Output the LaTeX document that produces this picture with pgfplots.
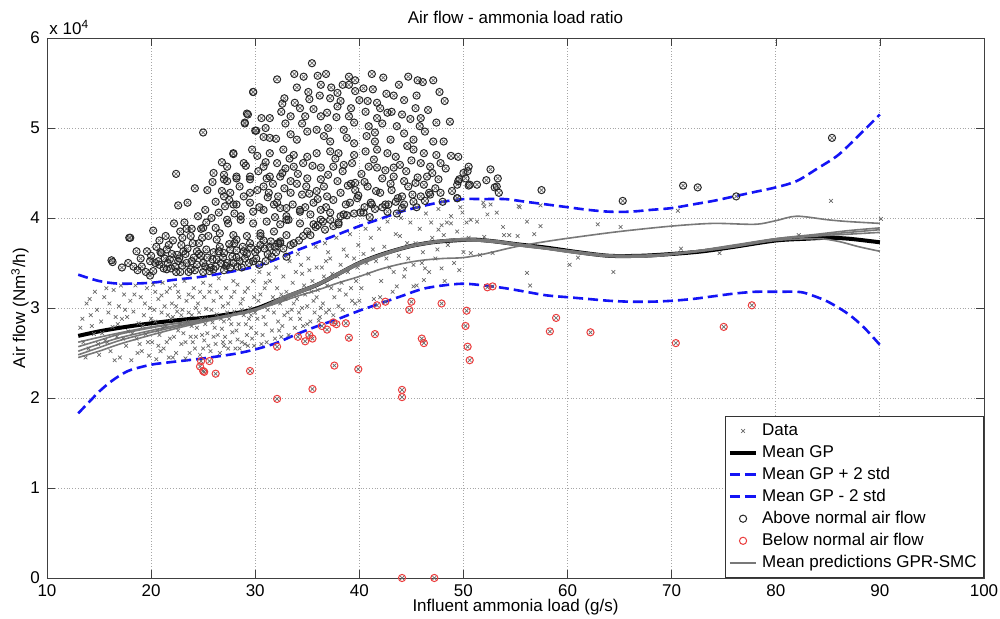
\documentclass[border=0pt]{standalone}
\usepackage{fontspec}
\setmainfont{Liberation Sans}
\usepackage{pgfplots}
\usepackage{pgfplotstable}
\pgfplotsset{compat=1.18}

\definecolor{bandblue}{RGB}{20,20,245}
\definecolor{smcgray}{RGB}{120,120,120}
\definecolor{ptgray}{RGB}{105,105,105}
\definecolor{lowred}{RGB}{235,60,60}

% data points inside the band (air flow in 10^4 Nm3/h)
\pgfplotstableread[row sep=\\]{
x y\\
13.2 2.78\\ 13.5 2.62\\ 13.8 3.05\\ 14.0 2.55\\ 14.2 2.92\\ 14.5 2.71\\ 14.8 2.98\\ 15.0 2.48\\
15.2 2.85\\ 15.5 3.12\\ 15.6 2.64\\ 15.9 2.95\\ 16.1 2.52\\ 16.3 2.79\\ 16.4 3.20\\ 16.7 2.68\\
16.9 3.02\\ 17.0 2.45\\ 17.2 2.88\\ 17.4 3.15\\ 17.6 2.58\\ 17.8 2.74\\ 18.0 3.08\\ 18.1 2.42\\
18.3 2.96\\ 18.5 3.25\\ 18.6 2.66\\ 18.8 2.83\\ 19.0 3.12\\ 19.1 2.52\\ 19.3 2.92\\ 19.5 2.71\\
19.6 3.22\\ 19.8 2.47\\ 19.9 3.00\\ 14.1 3.10\\ 15.8 2.62\\ 16.6 2.90\\ 17.5 2.98\\ 18.9 2.60\\
13.4 2.88\\ 13.7 2.45\\ 14.3 2.80\\ 14.6 3.18\\ 14.9 2.60\\ 15.3 2.72\\ 15.7 3.22\\ 16.0 3.05\\
16.5 2.42\\ 16.8 2.82\\ 17.1 3.25\\ 17.3 2.66\\ 17.7 2.90\\ 18.2 2.72\\ 18.4 3.15\\ 18.7 2.50\\
19.2 2.80\\ 19.4 3.05\\ 19.7 2.62\\
20.1 2.62\\ 20.2 3.26\\ 20.4 2.85\\ 20.5 2.43\\ 20.7 3.10\\ 20.8 2.70\\ 21.0 2.95\\ 21.1 3.28\\
21.2 2.55\\ 21.4 2.80\\ 21.5 3.18\\ 21.7 2.45\\ 21.8 2.66\\ 22.0 3.05\\ 22.1 2.90\\ 22.3 3.25\\
22.4 2.50\\ 22.6 2.75\\ 22.7 3.12\\ 22.9 2.60\\ 23.0 2.98\\ 23.2 3.30\\ 23.3 2.44\\ 23.5 2.85\\
23.6 3.15\\ 23.8 2.68\\ 23.9 2.92\\ 24.1 3.22\\ 24.2 2.55\\ 24.4 2.78\\ 24.5 3.05\\ 24.7 2.48\\
24.8 2.88\\ 25.0 3.28\\ 25.1 2.64\\ 25.3 2.99\\ 25.4 2.72\\ 25.6 3.18\\ 25.7 2.52\\ 25.9 2.84\\
26.0 3.08\\ 26.2 2.60\\ 26.3 2.93\\ 26.5 3.33\\ 26.6 2.50\\ 26.8 2.77\\ 26.9 3.02\\ 27.1 2.68\\
27.2 3.22\\ 27.4 2.55\\ 27.5 2.88\\ 27.7 3.12\\ 27.8 2.73\\ 28.0 2.96\\ 28.1 2.55\\ 28.3 3.26\\
28.4 2.82\\ 28.6 3.05\\ 28.7 2.62\\ 28.9 2.92\\ 29.0 3.18\\ 29.2 2.70\\ 29.3 2.58\\ 29.5 3.00\\
29.6 2.78\\ 29.8 3.30\\ 29.9 2.58\\ 20.3 2.98\\ 20.9 2.52\\ 21.3 3.02\\ 21.9 2.88\\ 22.2 2.68\\
22.8 2.82\\ 23.4 3.08\\ 24.0 2.62\\ 24.6 2.95\\ 25.2 2.82\\ 25.8 2.98\\ 26.4 2.70\\ 27.0 2.85\\
27.6 2.62\\ 28.2 2.75\\ 28.8 3.10\\ 29.4 2.88\\ 29.7 2.66\\ 20.6 2.75\\ 21.6 2.92\\ 22.5 2.96\\
23.1 2.72\\ 23.7 2.50\\ 24.3 3.00\\ 24.9 2.70\\ 25.5 2.58\\ 26.1 2.78\\ 26.7 3.12\\ 27.3 2.95\\
27.9 3.30\\ 28.5 2.55\\ 29.1 2.82\\ 21.0 3.14\\ 22.4 3.02\\ 23.9 2.80\\ 25.1 3.12\\ 26.9 2.62\\
20.0 2.88\\ 20.4 3.18\\ 20.7 2.58\\ 21.1 2.78\\ 21.5 2.62\\ 21.8 3.22\\ 22.1 2.45\\ 22.6 3.18\\
22.9 2.92\\ 23.3 2.62\\ 23.6 2.95\\ 24.0 3.12\\ 24.3 2.68\\ 24.7 3.18\\ 25.0 2.55\\ 25.3 2.88\\
25.7 3.25\\ 26.0 2.68\\ 26.3 3.18\\ 26.7 2.88\\ 27.0 2.58\\ 27.4 3.05\\ 27.7 2.82\\ 28.0 3.18\\
28.3 2.65\\ 28.7 2.98\\ 29.0 2.60\\ 29.3 3.22\\ 29.6 2.92\\ 29.9 3.12\\
30.1 2.72\\ 30.3 3.08\\ 30.4 3.40\\ 30.6 2.60\\ 30.8 2.90\\ 30.9 3.22\\ 31.1 2.62\\ 31.2 2.98\\
31.4 3.30\\ 31.6 2.75\\ 31.7 3.12\\ 31.9 2.66\\ 32.0 3.45\\ 32.2 2.85\\ 32.4 3.05\\ 32.5 2.68\\
32.7 3.35\\ 32.8 2.92\\ 33.0 3.18\\ 33.2 2.70\\ 33.3 3.52\\ 33.5 2.98\\ 33.6 3.28\\ 33.8 2.78\\
34.0 3.10\\ 34.1 3.60\\ 34.3 2.88\\ 34.5 3.38\\ 34.6 2.80\\ 34.8 3.15\\ 35.0 3.02\\ 35.1 3.55\\
35.3 2.85\\ 35.5 3.30\\ 35.7 2.95\\ 35.8 3.68\\ 36.0 3.20\\ 36.2 2.90\\ 36.4 3.45\\ 36.5 3.05\\
36.7 3.72\\ 36.9 3.25\\ 37.1 2.98\\ 37.2 3.55\\ 37.4 3.38\\ 37.6 3.12\\ 37.8 3.78\\ 38.0 3.02\\
38.2 3.48\\ 38.3 3.28\\ 38.5 3.65\\ 38.7 3.15\\ 38.9 3.40\\ 39.1 3.82\\ 39.3 3.08\\ 39.5 3.55\\
39.7 3.30\\ 39.9 3.70\\ 30.5 3.15\\ 31.0 2.82\\ 31.5 3.05\\ 32.1 3.22\\ 32.6 2.80\\ 33.1 2.95\\
33.7 3.05\\ 34.2 2.95\\ 34.7 3.25\\ 35.2 3.42\\ 35.6 3.08\\ 36.1 2.86\\ 36.6 3.35\\ 37.0 3.62\\
37.5 2.92\\ 38.1 3.20\\ 30.2 2.88\\ 31.3 3.38\\ 32.9 3.10\\ 34.4 3.48\\ 35.9 3.12\\ 36.8 2.95\\
30.0 2.95\\ 30.7 2.70\\ 31.0 3.28\\ 31.8 2.95\\ 32.3 2.75\\ 32.5 3.15\\ 33.4 2.88\\ 33.9 3.40\\
34.5 3.00\\ 35.0 2.82\\ 35.4 3.18\\ 35.9 3.45\\ 36.3 3.00\\ 36.8 3.52\\ 37.3 3.22\\ 37.9 3.35\\
38.4 2.98\\ 38.8 3.58\\ 39.2 3.22\\ 39.6 3.05\\ 39.8 3.45\\
40.2 3.22\\ 40.4 3.60\\ 40.6 3.88\\ 40.9 3.38\\ 41.1 3.78\\ 41.4 3.10\\ 41.6 3.52\\ 41.9 3.88\\
42.1 3.30\\ 42.4 3.68\\ 42.7 3.96\\ 42.9 3.45\\ 43.2 3.18\\ 43.5 3.82\\ 43.8 3.58\\ 44.0 4.00\\
44.3 3.35\\ 44.6 3.72\\ 44.9 3.95\\ 45.2 3.48\\ 45.5 3.25\\ 45.8 3.88\\ 46.1 3.62\\ 46.4 4.05\\
46.7 3.40\\ 47.0 3.78\\ 47.3 3.55\\ 47.6 4.10\\ 47.9 3.92\\ 48.2 3.30\\ 48.5 3.70\\ 48.8 4.02\\
49.1 3.50\\ 49.4 3.85\\ 49.7 4.12\\ 50.0 3.62\\ 50.3 3.95\\ 47.6 3.87\\ 48.1 3.81\\ 48.8 3.94\\
40.0 3.08\\ 40.7 3.50\\ 41.3 3.65\\ 42.0 3.12\\ 42.6 3.55\\ 43.3 3.40\\ 43.9 3.80\\ 44.7 3.55\\
45.4 3.72\\ 46.0 3.50\\ 46.9 3.95\\ 47.5 3.65\\ 48.4 3.95\\ 49.0 3.75\\ 49.6 3.42\\ 50.5 3.78\\
49.9 4.06\\ 50.7 3.98\\ 51.3 3.96\\ 52.0 4.13\\ 53.2 4.06\\ 53.9 3.81\\ 54.4 3.81\\ 55.3 4.13\\
56.1 3.39\\ 50.7 3.61\\ 51.6 3.59\\ 47.9 3.44\\ 46.2 3.31\\ 43.6 3.24\\ 45.2 3.24\\ 46.3 3.44\\
44.4 3.43\\ 51.9 4.17\\ 52.6 4.15\\ 52.3 4.04\\ 55.4 4.12\\ 57.4 4.14\\ 56.1 3.96\\ 53.8 3.90\\
55.2 3.80\\ 56.8 3.82\\ 57.4 3.91\\ 52.0 3.79\\ 52.8 3.61\\ 56.4 3.25\\ 60.2 3.48\\ 61.0 3.56\\
62.9 3.93\\ 65.1 3.90\\ 64.4 3.40\\ 70.6 4.08\\ 70.9 3.66\\ 74.6 3.61\\ 82.2 3.81\\ 85.3 4.19\\
90.1 3.99\\
}\dataTab

% points above normal air flow
\pgfplotstableread[row sep=\\]{
x y\\
35.45 5.72\\ 33.75 5.60\\ 34.65 5.57\\ 32.1 5.54\\ 36.0 5.58\\ 36.8 5.60\\ 36.3 5.48\\ 39.0 5.57\\
39.0 5.48\\ 39.6 5.53\\ 41.2 5.60\\ 42.3 5.56\\ 43.8 5.48\\ 44.7 5.57\\ 45.6 5.53\\ 46.1 5.51\\
47.1 5.53\\ 47.7 5.40\\ 29.8 5.40\\ 32.8 5.33\\ 35.1 5.40\\ 35.2 5.32\\ 37.2 5.33\\ 37.9 5.39\\
39.6 5.41\\ 40.4 5.44\\ 41.3 5.43\\ 42.6 5.38\\ 43.3 5.36\\ 44.3 5.31\\ 45.5 5.36\\ 32.6 5.27\\
32.5 5.18\\ 29.2 5.16\\ 29.0 5.06\\ 30.6 5.11\\ 31.4 5.11\\ 33.4 5.13\\ 34.3 5.22\\ 34.8 5.13\\
36.3 5.13\\ 36.9 5.17\\ 37.9 5.24\\ 38.2 5.30\\ 39.0 5.13\\ 39.5 5.06\\ 40.6 5.18\\ 41.7 5.28\\
41.7 5.11\\ 42.7 5.17\\ 43.1 5.18\\ 44.1 5.15\\ 44.9 5.10\\ 45.4 5.22\\ 45.9 5.11\\ 48.7 5.07\\
30.0 4.97\\ 30.8 4.90\\ 31.4 4.89\\ 33.4 4.93\\ 34.0 4.87\\ 35.0 4.96\\ 35.9 4.98\\ 36.6 4.91\\
37.2 4.85\\ 38.8 4.89\\ 39.5 4.83\\ 40.7 4.91\\ 41.5 4.85\\ 43.0 4.87\\ 44.3 4.94\\ 45.2 4.87\\
46.3 4.96\\ 47.1 4.85\\ 48.1 4.85\\ 29.7 4.76\\ 27.9 4.72\\ 30.2 4.69\\ 31.4 4.72\\ 32.7 4.76\\
33.7 4.70\\ 35.0 4.68\\ 35.9 4.72\\ 37.2 4.74\\ 38.0 4.72\\ 39.5 4.70\\ 40.6 4.74\\ 41.7 4.76\\
42.7 4.72\\ 43.5 4.68\\ 45.2 4.76\\ 46.2 4.72\\ 48.8 4.69\\ 49.5 4.68\\ 27.3 4.57\\ 28.9 4.61\\
30.8 4.57\\ 32.1 4.61\\ 33.7 4.57\\ 34.6 4.61\\ 36.3 4.56\\ 37.5 4.57\\ 38.5 4.59\\ 40.9 4.57\\
41.7 4.56\\ 43.3 4.56\\ 43.9 4.59\\ 45.9 4.61\\ 46.8 4.57\\ 47.8 4.61\\ 50.4 4.52\\ 27.0 4.43\\
28.2 4.46\\ 29.5 4.43\\ 31.1 4.44\\ 32.4 4.46\\ 33.4 4.41\\ 35.0 4.44\\ 36.3 4.43\\ 37.9 4.41\\
39.6 4.39\\ 42.2 4.44\\ 43.3 4.46\\ 44.3 4.41\\ 45.4 4.39\\ 46.5 4.46\\ 47.6 4.43\\ 49.5 4.41\\
50.2 4.44\\ 27.6 4.28\\ 28.9 4.24\\ 30.2 4.31\\ 31.3 4.28\\ 32.2 4.24\\ 33.4 4.28\\ 34.5 4.26\\
35.9 4.30\\ 36.9 4.24\\ 38.2 4.28\\ 39.6 4.31\\ 39.8 4.22\\ 41.2 4.15\\ 42.8 4.15\\ 44.1 4.24\\
45.1 4.26\\ 45.9 4.24\\ 46.7 4.28\\ 47.8 4.28\\ 49.4 4.22\\ 27.1 4.13\\ 28.2 4.15\\ 29.5 4.17\\
30.8 4.09\\ 31.8 4.15\\ 33.0 4.11\\ 34.3 4.09\\ 35.3 4.04\\ 36.3 4.09\\ 37.2 4.06\\ 38.5 4.04\\
40.4 4.06\\ 44.3 4.15\\ 27.3 3.98\\ 28.6 3.98\\ 29.8 3.94\\ 31.1 3.96\\ 32.4 3.93\\ 33.2 3.98\\
34.3 3.94\\ 35.6 3.93\\ 36.3 3.98\\ 37.5 3.91\\ 26.6 3.83\\ 27.9 3.81\\ 29.2 3.80\\ 30.5 3.83\\
31.8 3.85\\ 33.0 3.81\\ 34.6 3.80\\ 32.4 3.72\\ 30.5 3.70\\ 22.4 4.49\\ 24.2 4.33\\ 25.4 4.31\\
22.6 4.14\\ 23.5 4.17\\ 24.5 4.02\\ 25.2 4.09\\ 22.2 3.94\\ 20.2 3.86\\ 17.9 3.78\\ 18.6 3.63\\
16.2 3.53\\ 19.6 3.63\\ 18.3 3.46\\ 19.1 3.46\\ 19.9 3.52\\ 23.4 3.88\\ 23.9 3.88\\ 22.1 3.75\\
23.0 3.78\\ 23.8 3.80\\ 25.0 3.89\\ 24.9 3.78\\ 25.5 3.80\\ 26.2 3.89\\ 26.3 3.76\\ 20.5 3.68\\
21.0 3.61\\ 21.5 3.65\\ 20.7 3.52\\ 21.8 3.54\\ 22.5 3.59\\ 23.1 3.63\\ 22.3 3.46\\ 23.4 3.50\\
24.1 3.56\\ 24.4 3.63\\ 25.4 3.56\\ 25.2 3.46\\ 26.3 3.54\\ 27.0 3.61\\ 27.6 3.65\\ 27.3 3.50\\
28.2 3.56\\ 28.9 3.63\\ 29.4 3.50\\ 21.5 3.43\\ 23.8 3.43\\ 26.0 3.43\\ 27.6 3.45\\ 20.2 3.41\\
19.9 3.36\\ 22.8 3.40\\ 25.0 3.40\\ 29.5 3.72\\ 30.2 3.65\\ 30.5 3.80\\ 28.2 3.76\\ 27.4 3.94\\
28.6 4.02\\ 27.9 4.15\\ 27.0 4.24\\ 26.5 4.06\\ 29.5 4.28\\ 30.8 4.35\\ 31.4 4.46\\ 32.6 4.50\\
29.5 4.46\\ 28.2 4.44\\ 27.3 4.41\\ 26.0 4.50\\ 27.0 4.48\\ 32.1 4.17\\ 33.0 4.02\\ 32.2 3.72\\
33.0 3.57\\ 31.0 3.52\\ 31.6 3.57\\ 25.0 4.95\\ 25.9 4.40\\ 26.8 4.62\\ 27.9 4.71\\ 29.0 5.05\\
29.3 5.15\\ 29.8 5.40\\ 30.1 4.97\\ 18.0 3.78\\ 16.3 3.51\\ 52.6 4.54\\ 53.3 4.44\\ 53.0 4.34\\
53.4 4.28\\ 52.2 4.42\\ 51.3 4.37\\ 50.5 4.36\\ 50.5 4.57\\ 50.0 4.50\\ 49.6 4.43\\ 49.4 4.22\\
57.5 4.31\\ 65.3 4.19\\ 71.1 4.36\\ 72.5 4.34\\ 76.2 4.24\\ 85.4 4.89\\ 33.0 3.98\\ 35.6 4.17\\
33.7 3.72\\ 35.3 3.81\\ 36.7 3.87\\ 39.1 4.17\\ 41.1 4.17\\ 42.7 4.07\\ 44.1 4.11\\ 45.2 4.18\\
46.8 4.26\\ 49.4 4.37\\ 50.6 4.37\\ 53.2 4.35\\ 32.4 4.11\\ 34.3 4.07\\ 38.2 4.02\\ 40.1 4.06\\
32.4 3.74\\ 31.4 3.68\\ 20.8 3.48\\ 21.3 3.55\\ 21.9 3.44\\ 22.6 3.52\\ 23.3 3.60\\ 23.6 3.40\\
24.4 3.48\\ 24.8 3.58\\ 25.7 3.45\\ 26.0 3.62\\ 26.7 3.50\\ 27.0 3.42\\ 27.8 3.57\\ 28.3 3.46\\
28.8 3.68\\ 29.0 3.55\\ 29.8 3.52\\ 30.0 3.62\\ 21.7 3.70\\ 22.9 3.70\\ 24.6 3.72\\ 26.6 3.68\\
28.0 3.72\\ 30.8 3.75\\ 31.2 3.60\\ 31.9 3.68\\ 19.5 3.40\\ 20.0 3.58\\ 19.0 3.55\\ 18.7 3.42\\
17.8 3.50\\ 17.2 3.45\\
30.3 4.52\\ 31.0 4.62\\ 31.7 4.38\\ 32.9 4.55\\ 33.3 4.66\\ 34.1 4.49\\ 34.9 4.35\\ 35.5 4.58\\
36.0 4.21\\ 36.6 4.35\\ 37.0 4.48\\ 37.7 4.66\\ 38.4 4.52\\ 38.9 4.36\\ 39.3 4.61\\ 40.2 4.49\\
40.8 4.35\\ 41.4 4.65\\ 42.0 4.28\\ 42.5 4.53\\ 43.0 4.38\\ 43.7 4.22\\ 44.5 4.52\\ 45.0 4.64\\
45.6 4.45\\ 46.2 4.37\\ 47.0 4.50\\ 47.4 4.70\\ 48.3 4.55\\ 48.9 4.30\\ 30.4 4.12\\ 31.2 4.23\\
31.9 4.01\\ 32.8 4.33\\ 33.6 4.15\\ 34.0 4.38\\ 34.8 4.12\\ 35.2 4.27\\ 36.0 3.92\\ 36.8 4.12\\
37.5 4.20\\ 38.0 3.93\\ 38.7 4.15\\ 39.2 4.38\\ 39.9 4.25\\ 40.5 4.40\\ 41.0 4.01\\ 41.6 4.30\\
42.2 4.12\\ 43.1 4.31\\ 43.6 4.05\\ 44.7 4.35\\ 45.5 4.12\\ 46.3 4.19\\ 47.3 4.33\\ 48.0 4.18\\
31.0 5.00\\ 32.0 4.88\\ 32.9 5.05\\ 33.8 5.28\\ 34.5 5.05\\ 35.6 5.21\\ 36.2 5.36\\ 37.0 5.00\\
37.8 5.12\\ 38.5 4.98\\ 39.2 5.22\\ 40.0 5.31\\ 40.9 5.02\\ 41.5 4.95\\ 42.2 5.05\\ 43.6 5.02\\
44.6 4.80\\ 45.8 5.02\\ 46.6 5.20\\ 47.4 5.06\\ 48.2 5.30\\ 34.0 5.45\\ 37.3 5.45\\ 38.4 5.48\\
40.8 5.30\\ 42.0 5.22\\ 28.5 4.35\\ 29.1 4.58\\ 29.8 4.07\\ 28.0 4.05\\ 26.8 4.30\\ 27.5 4.20\\
26.2 4.18\\ 25.8 4.00\\ 25.3 3.95\\ 24.0 3.72\\ 24.8 3.88\\ 23.2 3.95\\ 22.8 3.85\\ 21.4 3.80\\
20.8 3.75\\ 20.4 3.50\\ 20.9 3.62\\ 21.2 3.44\\ 21.6 3.50\\ 22.0 3.60\\ 22.4 3.40\\ 22.7 3.55\\
23.0 3.47\\ 23.5 3.66\\ 23.9 3.52\\ 24.2 3.42\\ 24.6 3.60\\ 25.0 3.50\\ 25.3 3.65\\ 25.6 3.41\\
25.9 3.54\\ 26.2 3.46\\ 26.5 3.63\\ 26.9 3.56\\ 27.2 3.47\\ 27.5 3.71\\ 27.9 3.50\\ 28.2 3.64\\
28.5 3.52\\ 28.7 3.45\\ 29.2 3.60\\ 29.6 3.67\\ 30.1 3.55\\ 30.4 3.48\\ 30.9 3.66\\ 31.5 3.74\\
32.0 3.62\\ 32.7 3.66\\ 33.4 3.70\\ 34.2 3.75\\ 35.0 3.85\\ 35.8 3.90\\ 36.5 3.96\\ 37.2 3.98\\
38.0 3.95\\ 38.8 4.03\\ 39.5 4.05\\ 40.5 4.12\\ 41.5 4.10\\ 42.5 4.15\\ 43.5 4.18\\
}\aboveTab

% points below normal air flow
\pgfplotstableread[row sep=\\]{
x y\\
45.0 3.07\\ 44.8 2.98\\ 47.9 3.05\\ 50.3 2.97\\ 50.2 2.80\\ 50.4 2.57\\ 50.6 2.42\\ 58.9 2.89\\
58.3 2.74\\ 62.2 2.73\\ 46.0 2.66\\ 46.2 2.61\\ 41.5 2.71\\ 41.7 3.03\\ 42.5 3.07\\ 38.7 2.83\\
39.0 2.67\\ 37.8 2.82\\ 36.9 2.76\\ 36.4 2.80\\ 37.6 2.36\\ 39.9 2.32\\ 35.2 2.70\\ 35.5 2.66\\
34.8 2.63\\ 34.1 2.68\\ 32.1 2.57\\ 35.5 2.10\\ 44.1 2.09\\ 44.1 2.01\\ 32.1 1.99\\ 29.5 2.30\\
26.2 2.27\\ 25.0 2.30\\ 25.6 2.41\\ 24.8 2.41\\ 24.7 2.35\\ 25.1 2.29\\ 44.1 0.00\\ 47.2 0.00\\
77.7 3.03\\ 75.0 2.79\\ 70.4 2.61\\ 52.3 3.23\\ 52.8 3.24\\ 37.5 2.84\\
}\belowTab

\begin{document}
\begin{tikzpicture}
\begin{axis}[
    width=468.5pt, height=270pt, scale only axis,
    xmin=10, xmax=100, ymin=0, ymax=6,
    xtick={10,20,...,100}, ytick={0,1,...,6},
    grid=major,
    grid style={densely dotted, gray!70, line width=0.4pt},
    axis line style={black!75},
    tick style={black!75},
    major tick length=4pt,
    font=\fontsize{8.5}{10}\selectfont,
    /pgf/number format/assume math mode=true,
    xlabel={Influent ammonia load (g/s)},
    ylabel={Air flow (Nm\textsuperscript{3}/h)},
    xlabel style={at={(axis description cs:0.5,-0.054)}, anchor=center},
    ylabel style={at={(axis description cs:-0.0288,0.5)}, anchor=center},
    legend cell align=left,
    legend style={at={(1,0)}, anchor=south east, draw=black!80,
        font=\fontsize{8.5}{10}\selectfont, inner sep=1.5pt,
        row sep=-0.6pt},
    legend image code/.code={
        \draw[mark repeat=2, mark phase=2, #1]
            plot coordinates {(0cm,0cm) (0.23cm,0cm) (0.46cm,0cm)};},
    after end axis/.code={
        \node[anchor=south west, inner sep=1pt, yshift=0.5pt, font=\fontsize{8.5}{10}\selectfont]
            at (rel axis cs:0,1) {x 10\textsuperscript{4}};
        \node[anchor=center, inner sep=0pt, yshift=10.5pt, font=\fontsize{8.5}{10}\selectfont]
            at (rel axis cs:0.5,1) {Air flow - ammonia load ratio};},
]
% all data as grey crosses
\addplot[only marks, mark=x, mark size=1.3pt, draw=ptgray, mark options={line width=0.35pt}]
    table {\dataTab};
\addlegendentry{Data}
\addplot[only marks, mark=x, mark size=1.3pt, draw=ptgray, mark options={line width=0.35pt}, forget plot]
    table {\aboveTab};
\addplot[only marks, mark=x, mark size=1.3pt, draw=ptgray, mark options={line width=0.35pt}, forget plot]
    table {\belowTab};

% mean GP
\addplot[black, line width=2pt, smooth] coordinates {
    (13,2.69) (15,2.74) (17,2.78) (20,2.83) (23,2.87) (25,2.89) (28,2.94) (30,2.99)
    (32,3.08) (34,3.17) (36,3.26) (38,3.38) (40,3.50) (42,3.59) (44,3.66) (45,3.69)
    (47,3.73) (49,3.75) (51,3.76) (53,3.74) (55,3.71) (58,3.67) (61,3.62) (64,3.58)
    (67,3.58) (70,3.60) (73,3.63) (76,3.68) (80,3.75) (83,3.77) (85,3.78) (87,3.77) (90,3.73)
};
\addlegendentry{Mean GP}

% mean GP + 2 std
\addplot[bandblue, line width=1.3pt, dash pattern=on 5pt off 2.5pt, smooth] coordinates {
    (13,3.37) (15,3.30) (17,3.27) (20,3.28) (22,3.31) (25,3.35) (28,3.41) (30,3.46)
    (32,3.54) (34,3.64) (36,3.73) (38,3.82) (40,3.91) (42,3.99) (44,4.07) (46,4.13)
    (48,4.18) (50,4.21) (52,4.21) (54,4.21) (56,4.18) (58,4.15) (60,4.12) (62,4.09)
    (64,4.07) (66,4.07) (68,4.09) (70,4.11) (72,4.15) (74,4.19) (76,4.24) (78,4.29)
    (80,4.34) (82,4.41) (84,4.55) (86,4.70) (88,4.92) (90,5.15)
};
\addlegendentry{Mean GP + 2 std}

% mean GP - 2 std
\addplot[bandblue, line width=1.3pt, dash pattern=on 5pt off 2.5pt, smooth] coordinates {
    (13,1.83) (14,1.95) (15,2.07) (16,2.17) (17,2.25) (18,2.31) (20,2.37) (22,2.40)
    (25,2.44) (28,2.49) (30,2.54) (32,2.61) (34,2.71) (36,2.80) (38,2.88) (40,2.97)
    (42,3.05) (44,3.13) (46,3.21) (48,3.25) (50,3.27) (52,3.25) (54,3.22) (56,3.18)
    (58,3.14) (60,3.12) (62,3.10) (64,3.08) (66,3.07) (68,3.07) (70,3.08) (72,3.10)
    (74,3.13) (76,3.16) (78,3.18) (80,3.18) (82,3.18) (83,3.16) (85,3.07) (87,2.93)
    (88.5,2.78) (90,2.59)
};
\addlegendentry{Mean GP - 2 std}

% flagged points
\addplot[only marks, mark=o, mark size=1.8pt, draw=black!85, mark options={line width=0.5pt}]
    table {\aboveTab};
\addlegendentry{Above normal air flow}
\addplot[only marks, mark=o, mark size=1.8pt, draw=lowred, mark options={line width=0.5pt}]
    table {\belowTab};
\addlegendentry{Below normal air flow}

% GPR-SMC mean predictions
\addplot[smcgray, line width=0.8pt, smooth] coordinates {
    (13,2.62) (16,2.70) (20,2.79) (25,2.87) (28,2.93) (30,2.98) (32,3.05) (34,3.13)
    (36,3.20) (38,3.28) (40,3.35) (42,3.43) (44,3.49) (46,3.53) (48,3.55) (50,3.56)
    (52,3.60) (55,3.68) (58,3.74) (61,3.79) (65,3.85) (70,3.91) (74,3.94) (78,3.93)
    (80,3.97) (82,4.02) (85,3.98) (87,3.96) (90,3.94)
};
\addlegendentry{Mean predictions GPR-SMC}
\addplot[smcgray, line width=0.8pt, smooth, forget plot] coordinates {
    (13,2.45) (15,2.52) (17,2.60) (20,2.70) (23,2.79) (26,2.87) (30,2.98) (33,3.12)
    (36,3.26) (40,3.49) (44,3.66) (47,3.73) (50,3.75) (53,3.73) (56,3.68) (60,3.63)
    (64,3.58) (68,3.58) (72,3.62) (76,3.68) (80,3.75) (84,3.77) (86,3.74) (88,3.68) (90,3.63)
};
\addplot[smcgray, line width=0.8pt, smooth, forget plot] coordinates {
    (13,2.52) (15,2.60) (17,2.67) (20,2.75) (23,2.82) (26,2.88) (30,2.98) (33,3.13)
    (36,3.27) (40,3.51) (44,3.67) (47,3.74) (50,3.77) (53,3.75) (56,3.70) (60,3.64)
    (64,3.59) (68,3.59) (72,3.63) (76,3.70) (80,3.77) (84,3.81) (87,3.84) (90,3.87)
};
\addplot[smcgray, line width=0.8pt, smooth, forget plot] coordinates {
    (13,2.57) (15,2.64) (17,2.71) (20,2.78) (23,2.84) (26,2.89) (30,2.99) (33,3.14)
    (36,3.27) (40,3.50) (44,3.66) (47,3.73) (50,3.76) (53,3.74) (56,3.70) (60,3.63)
    (64,3.58) (68,3.58) (72,3.63) (76,3.69) (80,3.77) (84,3.82) (87,3.86) (90,3.89)
};
\addplot[smcgray, line width=0.8pt, smooth, forget plot] coordinates {
    (13,2.48) (15,2.56) (17,2.64) (20,2.73) (24,2.83) (28,2.92) (30,2.97) (33,3.11)
    (36,3.25) (40,3.48) (44,3.65) (47,3.72) (50,3.75) (53,3.73) (56,3.69) (60,3.62)
    (64,3.57) (68,3.57) (72,3.62) (76,3.68) (80,3.76) (84,3.80) (87,3.82) (90,3.84)
};
\end{axis}
\pgfresetboundingbox
\path ([xshift=-23.5pt,yshift=-20.5pt]current axis.south west)
    rectangle ([xshift=8pt,yshift=19pt]current axis.north east);
\end{tikzpicture}
\end{document}
